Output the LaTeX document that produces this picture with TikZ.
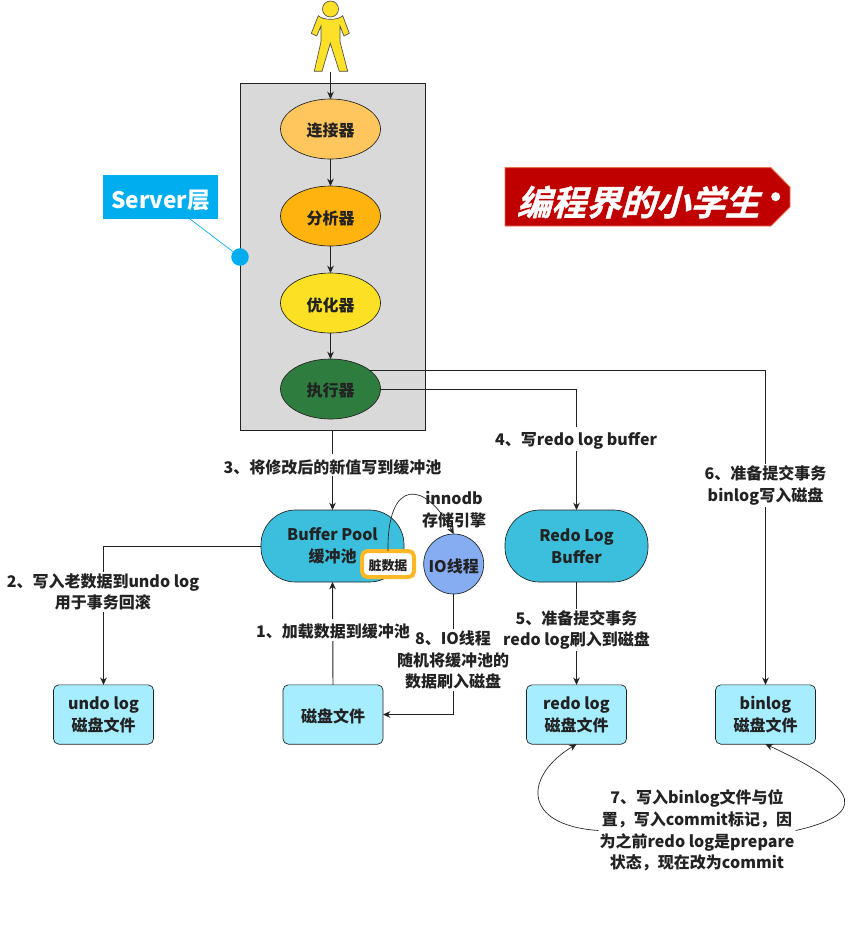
\documentclass[tikz,border=0pt]{standalone}
\usepackage{fontspec}
\setmainfont{Noto Sans CJK SC}
\newfontfamily\logofont[FakeSlant=0.28,FakeBold=1]{Noto Sans CJK SC Bold}
\usetikzlibrary{shapes.geometric,arrows.meta}
\definecolor{inkdark}{HTML}{222222}
\definecolor{poolblue}{HTML}{3BBFDC}
\definecolor{diskblue}{HTML}{A6EEFF}
\definecolor{tagblue}{HTML}{00AEEF}
\tikzset{
  every node/.style={font=\bfseries\fontsize{12pt}{16.3pt}\selectfont,text=inkdark,align=center,inner sep=0pt,outer sep=0pt,execute at begin node={\rule{0pt}{1.1em}}},
  link/.style={draw=inkdark,line width=0.7pt,-{Stealth[length=5.5pt,width=5pt]}},
  stage/.style={ellipse,draw=inkdark,line width=0.5pt,minimum width=75pt,minimum height=45pt},
  pool/.style={rectangle,rounded corners=26pt,draw=inkdark,line width=0.5pt,fill=poolblue,minimum width=107.25pt,minimum height=54pt},
  disk/.style={rectangle,rounded corners=4pt,draw=inkdark,line width=0.5pt,fill=diskblue,minimum width=75pt,minimum height=44.5pt},
  note/.style={fill=white,inner xsep=1pt,inner ysep=1pt}
}
\begin{document}
\begin{tikzpicture}[x=0.75pt,y=-0.75pt]
  \useasboundingbox (0,0) rectangle (850,926);
  % server layer
  \node[rectangle,draw=inkdark,line width=0.6pt,fill=black!15,minimum width=138.75pt,minimum height=260.25pt] (server) at (332.5,256.5) {};
  \node[stage,fill={rgb,255:red,255;green,198;blue,94}] (connector) at (330.5,129) {连接器};
  \node[stage,fill={rgb,255:red,255;green,179;blue,15}] (parser) at (330.5,216) {分析器};
  \node[stage,fill={rgb,255:red,251;green,224;blue,35}] (optimizer) at (330.5,303) {优化器};
  \node[stage,fill={rgb,255:red,46;green,125;blue,63}] (executor) at (330.5,389) {执行器};
  % user
  \node[minimum width=28pt,minimum height=53.5pt] (user) at (330.5,36) {};
  \draw[draw=inkdark!80,line width=0.5pt,fill={rgb,255:red,253;green,224;blue,40}] (330.5,9) circle (8);
  \draw[draw=inkdark!80,line width=0.5pt,fill={rgb,255:red,253;green,224;blue,40}]
    (318.3,15.7) .. controls (323,20.5) and (338,20.5) .. (342.7,15.7)
    -- (349.3,33.3) -- (344,36) -- (340,26) -- (340,41.7) -- (347.7,71.3) -- (339.3,71.3)
    -- (330.3,43.3) -- (322,71.3) -- (314.3,71.3) -- (321,41.7) -- (321,26) -- (316.7,36) -- (311.3,33.3) -- cycle;
  % server tag
  \node[rectangle,fill=tagblue,text=white,font=\bfseries\fontsize{17pt}{18pt}\selectfont,minimum width=86.25pt,minimum height=33pt] (servertag) at (160.5,197) {Server层};
  \node[circle,fill=tagblue,minimum size=9.75pt,execute at begin node={}] (serverdot) at (240,257) {};
  \draw[tagblue,line width=0.5pt] (190,219) -- (serverdot);
  % logo
  \draw[draw={rgb,255:red,232;green,112;blue,79},line width=0.7pt,fill={rgb,255:red,192;green,0;blue,0}]
    (505,167.7) -- (771,167.7) -- (790,187) -- (790,207) -- (771,226) -- (505,226) -- cycle;
  \fill[white] (775.7,196.7) circle (4.5);
  \node[text=white,font=\logofont\fontsize{26pt}{28pt}\selectfont] (logo) at (638,198) {编程界的小学生};
  % storage and buffers
  \node[pool] (bufferpool) at (332.5,546) {Buffer Pool\\缓冲池};
  \node[pool] (redobuffer) at (576.5,546) {Redo Log\\Buffer};
  \node[circle,draw=inkdark,line width=0.5pt,fill={rgb,255:red,134;green,173;blue,242},minimum size=45pt] (iothread) at (453.7,564) {IO线程};
  \node[disk] (undo) at (103.5,714.5) {undo log\\磁盘文件};
  \node[disk] (datafile) at (333,714.5) {磁盘文件};
  \node[disk] (redo) at (576.5,714.5) {redo log\\磁盘文件};
  \node[disk] (binlog) at (765.5,714.5) {binlog\\磁盘文件};
  \node[rectangle,rounded corners=4pt,draw={rgb,255:red,253;green,184;blue,39},line width=3pt,fill=white,minimum width=39pt,minimum height=19.5pt,font=\bfseries\fontsize{9.7pt}{11pt}\selectfont] (dirty) at (388,564) {脏数据};
  % links
  \draw[link] (user.south) -- (connector);
  \draw[link] (connector) -- (parser);
  \draw[link] (parser) -- (optimizer);
  \draw[link] (optimizer) -- (executor);
  \draw[link] (server.south) -- (bufferpool);
  \draw[link] (executor.east) -| (redobuffer.north);
  \draw[link] (executor.26) -| (binlog.north);
  \draw[link] (bufferpool.west) -| (undo.north);
  \draw[link] (datafile.north) -- (bufferpool.south);
  \draw[link] (redobuffer) -- (redo);
  \draw[link] (iothread.south) |- (datafile.east);
  \draw[link,line width=0.5pt] (dirty.north) .. controls (387,478) and (425,480) .. (iothread.north);
  % labels
  \node[note] (step3) at (332.5,465) {3、将修改后的新值写到缓冲池};
  \node[note] (step4) at (576,439) {4、写redo log buffer};
  \node[note] (step6) at (765.5,485.5) {6、准备提交事务\\binlog写入磁盘};
  \node[note] (step2) at (103,592) {2、写入老数据到undo log\\用于事务回滚};
  \node[note] (step8) at (453,660) {8、IO线程\\随机将缓冲池的\\数据刷入磁盘};
  \node[note] (step1) at (333,630) {1、加载数据到缓冲池};
  \node[note] (step5) at (576.5,630) {5、准备提交事务\\redo log刷入到磁盘};
  \node (engine) at (454,509.5) {innodb\\存储引擎};
  \node[note] (step7) at (697,830.5) {7、写入binlog文件与位\\置，写入commit标记，因\\为之前redo log是prepare\\状态，现在改为commit};
  \draw[link,line width=0.5pt] (step7.west) .. controls (520,825) and (525,775) .. (redo.south);
  \draw[link,line width=0.5pt] (step7.east) .. controls (865,815) and (865,790) .. (binlog.south);
\end{tikzpicture}
\end{document}
